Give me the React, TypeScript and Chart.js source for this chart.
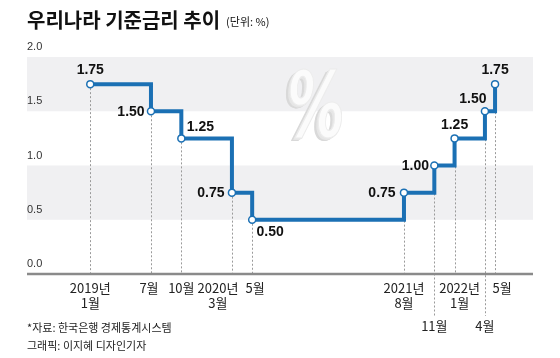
import React, { useEffect, useRef } from 'react';
import { Chart, registerables } from 'chart.js';

Chart.register(...registerables);

// ---- data ----
const dates = ['2019-01', '2019-07', '2019-10', '2020-03', '2020-05', '2021-08', '2021-11', '2022-01', '2022-04', '2022-05'];
const rates = [1.75, 1.5, 1.25, 0.75, 0.5, 0.75, 1.0, 1.25, 1.5, 1.75];
const tickLabels = [
  ['2019년', '1월'], ['7월'], ['10월'], ['2020년', '3월'], ['5월'],
  ['2021년', '8월'], ['11월'], ['2022년', '1월'], ['4월'], ['5월'],
];
const yTicks = [0, 0.5, 1.0, 1.5, 2.0];
const yTickLabels = ['0.0', '0.5', '1.0', '1.5', '2.0'];
const shadedBands = [[0.5, 1.0], [1.5, 2.0]];
const titleText = '우리나라 기준금리 추이';
const unitText = '(단위: %)';
const sourceText = '*자료: 한국은행 경제통계시스템';
const creditText = '그래픽: 이지혜 디자인기자';

// ---- styles (label placement) ----
const valueLabelOffsets = [[0, -14], [-20, 1], [19, -11], [-21, 1], [18, 12], [-22, 1], [-19, 1], [0, -13], [-12, -12], [0, -14]];
const tickDx = [0, -2, 0, -14, 3, 0, 0, 5, 0, 7];
const tickLow = [false, false, false, false, false, false, true, false, true, false];

const BLUE = '#1b70b4';
const KR = '"Noto Sans CJK KR", "Liberation Sans", sans-serif';
const NUM = '"Liberation Sans", "Noto Sans CJK KR", sans-serif';

function monthIndex(d: string) {
  const [y, m] = d.split('-').map(Number);
  return (y - 2019) * 12 + (m - 1);
}

const decorPlugin = {
  id: 'decor',
  beforeDatasetsDraw(chart: any) {
    const { ctx, chartArea, scales } = chart;
    const ys = scales.y;
    const xs = scales.x;
    ctx.save();
    // bands
    ctx.fillStyle = '#f0f0f2';
    shadedBands.forEach(([a, b]) => {
      const y1 = ys.getPixelForValue(b);
      const y2 = ys.getPixelForValue(a);
      ctx.fillRect(chartArea.left, y1, chartArea.right - chartArea.left, y2 - y1);
    });
    // y tick labels
    ctx.fillStyle = '#333';
    ctx.font = `11px ${NUM}`;
    ctx.textAlign = 'left';
    ctx.textBaseline = 'middle';
    yTicks.forEach((v, i) => {
      ctx.fillText(yTickLabels[i], chartArea.left, ys.getPixelForValue(v) - 10);
    });
    // % graphic (3D-ish, tall)
    ctx.save();
    ctx.translate(316, 114);
    ctx.scale(0.78, 1.22);
    ctx.font = `italic bold 74px "DejaVu Sans", sans-serif`;
    ctx.textAlign = 'center';
    ctx.textBaseline = 'middle';
    for (let i = 6; i >= 1; i--) {
      ctx.fillStyle = i > 3 ? '#d9d9d9' : '#e6e6e6';
      ctx.fillText('%', -i * 0.9, i * 0.4);
    }
    ctx.fillStyle = '#fbfbfb';
    ctx.fillText('%', 0, 0);
    ctx.strokeStyle = '#ececec';
    ctx.lineWidth = 1;
    ctx.strokeText('%', 0, 0);
    ctx.restore();
    // dashed drop lines
    const axisY = ys.getPixelForValue(0);
    ctx.strokeStyle = '#9a9a9a';
    ctx.lineWidth = 1;
    ctx.setLineDash([2, 2]);
    dates.forEach((d, i) => {
      const x = Math.round(xs.getPixelForValue(monthIndex(d))) + 0.5;
      const y = ys.getPixelForValue(rates[i]);
      ctx.beginPath();
      ctx.moveTo(x, y + 4);
      ctx.lineTo(x, tickLow[i] ? axisY + 42 : axisY);
      ctx.stroke();
    });
    ctx.setLineDash([]);
    // axis line
    ctx.strokeStyle = '#8a8a8a';
    ctx.lineWidth = 2.5;
    ctx.beginPath();
    ctx.moveTo(chartArea.left, axisY);
    ctx.lineTo(chartArea.right, axisY);
    ctx.stroke();
    ctx.restore();
  },
  afterDatasetsDraw(chart: any) {
    const { ctx, scales } = chart;
    const ys = scales.y;
    const xs = scales.x;
    const axisY = ys.getPixelForValue(0);
    ctx.save();
    // value labels
    ctx.fillStyle = '#111';
    ctx.font = `bold 14px ${NUM}`;
    ctx.textAlign = 'center';
    ctx.textBaseline = 'middle';
    dates.forEach((d, i) => {
      const x = xs.getPixelForValue(monthIndex(d));
      const y = ys.getPixelForValue(rates[i]);
      const [dx, dy] = valueLabelOffsets[i];
      ctx.fillText(rates[i].toFixed(2), x + dx, y + dy);
    });
    // x tick labels
    ctx.font = `13px ${KR}`;
    ctx.fillStyle = '#222';
    dates.forEach((d, i) => {
      const x = xs.getPixelForValue(monthIndex(d)) + tickDx[i];
      const lines = tickLabels[i];
      if (tickLow[i]) {
        ctx.fillText(lines[0], x, axisY + 52);
      } else {
        lines.forEach((t, j) => ctx.fillText(t, x, axisY + 14 + j * 15));
      }
    });
    // title
    ctx.textAlign = 'left';
    ctx.fillStyle = '#111';
    ctx.font = `bold 20px ${KR}`;
    ctx.fillText(titleText, 27, 20);
    const tw = ctx.measureText(titleText).width;
    ctx.font = `11px ${KR}`;
    ctx.fillText(unitText, 27 + tw + 6, 22);
    // footer
    ctx.font = `11px ${KR}`;
    ctx.fillStyle = '#222';
    ctx.fillText(sourceText, 27, 328);
    ctx.fillText(creditText, 27, 346);
    ctx.restore();
  },
};

export default function App() {
  const ref = useRef<HTMLCanvasElement>(null);
  useEffect(() => {
    document.body.style.margin = '0';
    const canvas = ref.current;
    if (!canvas) return;
    const chart = new Chart(canvas, {
      type: 'line',
      data: {
        datasets: [
          {
            data: dates.map((d, i) => ({ x: monthIndex(d), y: rates[i] })),
            stepped: 'before',
            borderColor: BLUE,
            borderWidth: 4,
            borderJoinStyle: 'miter',
            borderCapStyle: 'butt',
            pointRadius: 3.5,
            pointBackgroundColor: '#ffffff',
            pointBorderColor: BLUE,
            pointBorderWidth: 1.5,
            fill: false,
            clip: false,
          } as any,
        ],
      },
      options: {
        animation: false,
        responsive: false,
        maintainAspectRatio: false,
        layout: { padding: { left: 27, right: 27, top: 57, bottom: 84 } },
        scales: {
          x: { type: 'linear', min: -6.25, max: 43.75, display: false },
          y: { min: 0, max: 2, display: false },
        },
        plugins: { legend: { display: false }, tooltip: { enabled: false }, title: { display: false } },
      },
      plugins: [decorPlugin],
    });
    return () => chart.destroy();
  }, []);
  return (
    <div style={{ width: 560, height: 358, background: '#fff' }}>
      <canvas ref={ref} width={560} height={358} style={{ display: 'block' }} />
    </div>
  );
}
